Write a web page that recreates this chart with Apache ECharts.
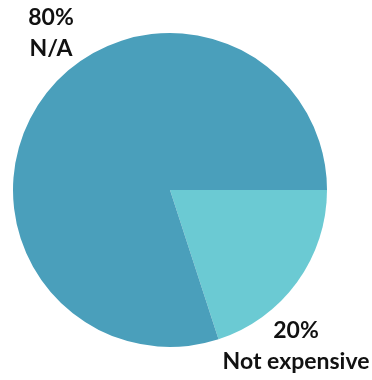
<!DOCTYPE html>
<html>
<head>
<meta charset="utf-8">
<script src="https://cdn.jsdelivr.net/npm/echarts@6/dist/echarts.min.js"></script>
<style>
  html, body { margin: 0; padding: 0; background: #fff; }
  #chart { width: 372px; height: 380px; }
</style>
</head>
<body>
<div id="chart"></div>
<script>
// Share of answers per category
const categories = ['Not expensive', 'N/A'];
const values = [20, 80];
const colors = ['#6bcad3', '#4a9fbb'];

// Where each category's caption sits (centre of the text block)
const labelSpots = [
  { x: 296, y: 346 },
  { x: 51, y: 33 }
];

const chart = echarts.init(document.getElementById('chart'));
chart.setOption({
  animation: false,
  series: [{
    type: 'pie',
    center: [170, 190],
    radius: [0, 157],
    startAngle: 0,
    clockwise: true,
    silent: true,
    avoidLabelOverlap: false,
    data: categories.map((name, i) => ({
      name,
      value: values[i],
      itemStyle: { color: colors[i] }
    })),
    label: {
      show: true,
      position: 'outside',
      formatter: '{d}%\n{b}',
      color: '#111',
      fontFamily: 'Lato',
      fontWeight: 'bold',
      fontSize: 23,
      lineHeight: 31,
      align: 'center',
      overflow: 'none',
      width: 200
    },
    labelLine: { show: false },
    labelLayout: function (params) {
      const p = labelSpots[params.dataIndex];
      return { x: p.x, y: p.y, align: 'center', verticalAlign: 'middle', hideOverlap: false };
    }
  }]
});
</script>
</body>
</html>
